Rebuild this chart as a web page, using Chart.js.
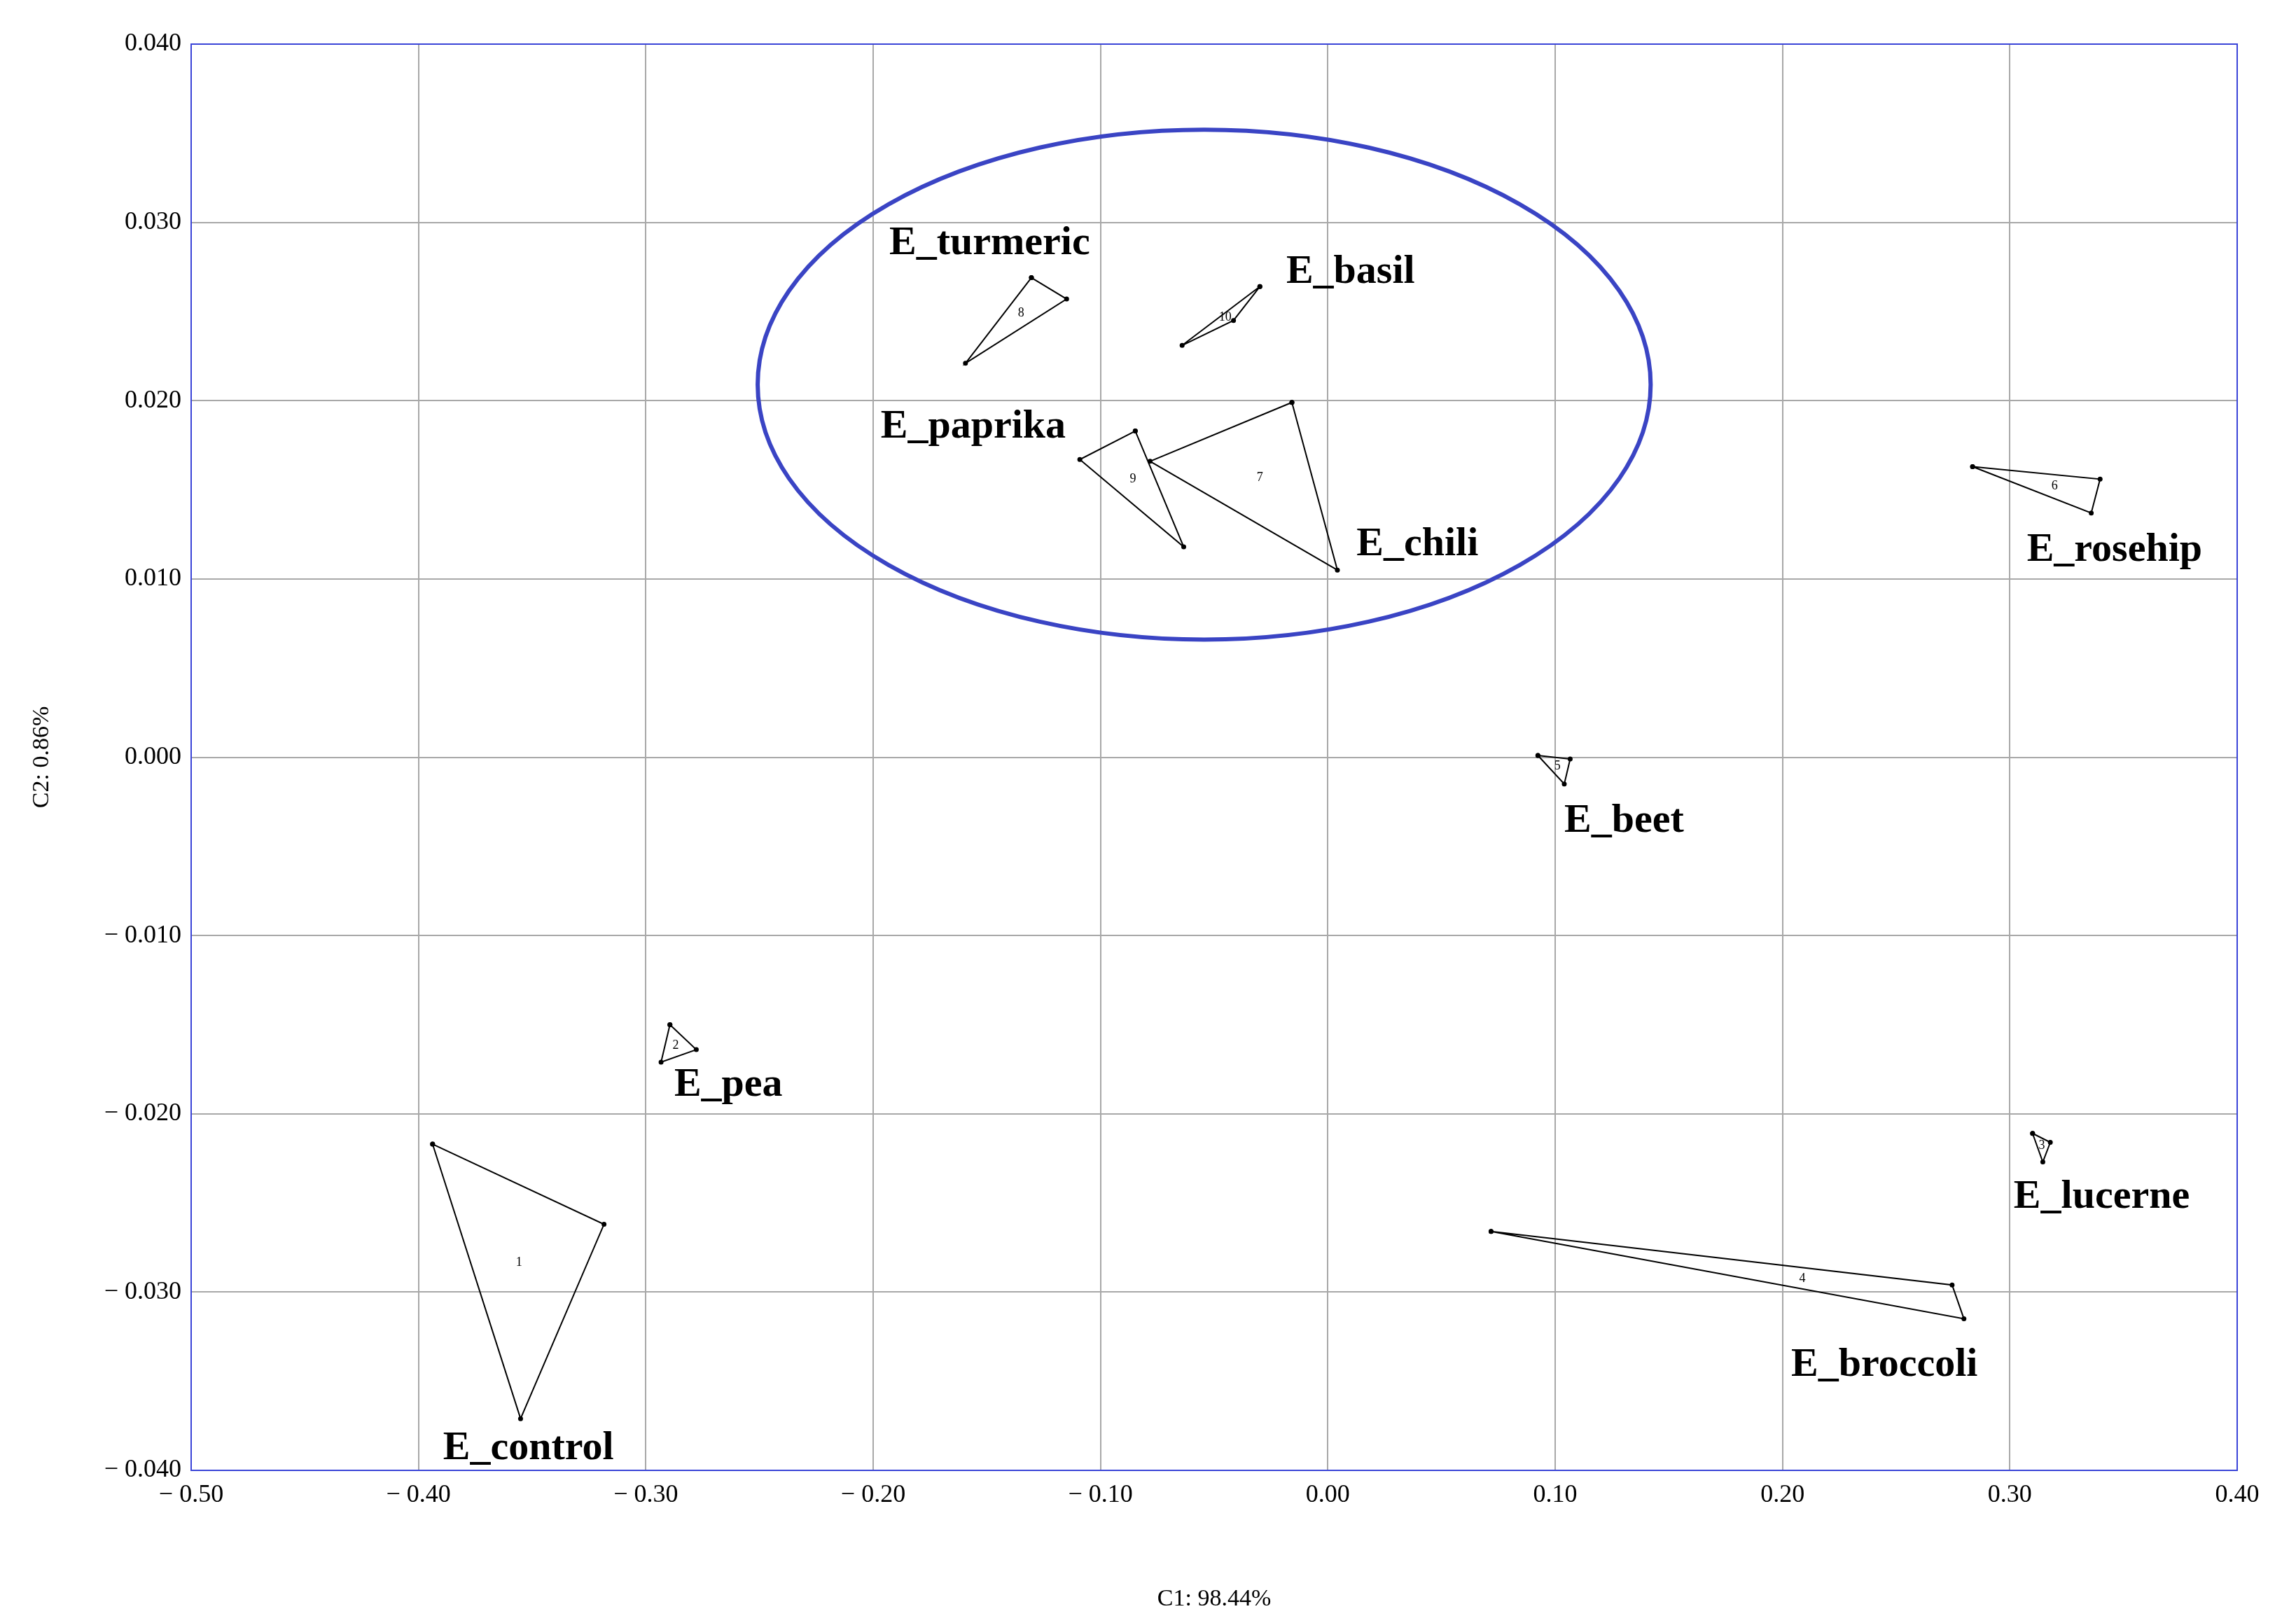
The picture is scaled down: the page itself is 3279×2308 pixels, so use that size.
<!DOCTYPE html>
<html>
<head>
<meta charset="utf-8">
<script src="https://cdn.jsdelivr.net/npm/chart.js@4"></script>
<style>
  body { margin: 0; background: #fff; }
</style>
</head>
<body>
<canvas id="chart" width="3279" height="2308"></canvas>
<script>
// group names and numbers shown inside triangles
const groups = ["E_control", "E_pea", "E_turmeric", "E_basil", "E_paprika", "E_chili", "E_rosehip", "E_beet", "E_lucerne", "E_broccoli"];
const groupNumbers = ["1", "2", "8", "10", "9", "7", "6", "5", "3", "4"];

// triangle vertices per group (C1, C2)
const vertX = [
  [-0.3938, -0.3184, -0.3551],
  [-0.2894, -0.2778, -0.2933],
  [-0.1304, -0.1149, -0.1594],
  [-0.0299, -0.0415, -0.0641],
  [-0.0847, -0.1091, -0.0634],
  [-0.0158, -0.0782, 0.0042],
  [0.2836, 0.3397, 0.3358],
  [0.0924, 0.1066, 0.1040],
  [0.3100, 0.3178, 0.3145],
  [0.0718, 0.2746, 0.2798]
];
const vertY = [
  [-0.0217, -0.0262, -0.0371],
  [-0.0150, -0.0164, -0.0171],
  [0.0269, 0.0257, 0.0221],
  [0.0264, 0.0245, 0.0231],
  [0.0183, 0.0167, 0.0118],
  [0.0199, 0.0166, 0.0105],
  [0.0163, 0.0156, 0.0137],
  [0.0001, -0.0001, -0.0015],
  [-0.0211, -0.0216, -0.0227],
  [-0.0266, -0.0296, -0.0315]
];

// label anchor positions (left edge, vertical middle)
const labelX = [-0.3892, -0.2875, -0.1929, -0.0183, -0.1967, 0.0126, 0.3075, 0.1040, 0.3017, 0.2038];
const labelY = [-0.0388, -0.0184, 0.0288, 0.0272, 0.0185, 0.0119, 0.0116, -0.0036, -0.0247, -0.0341];

// ellipse around the cluster: center x, center y, radius x, radius y
const ellipse = [-0.0544, 0.0209, 0.1964, 0.0143];

const xTicks = [-0.5, -0.4, -0.3, -0.2, -0.1, 0, 0.1, 0.2, 0.3, 0.4];
const yTicks = [-0.04, -0.03, -0.02, -0.01, 0, 0.01, 0.02, 0.03, 0.04];

function fmt(v, d) {
  if (Math.abs(v) < 1e-9) return (0).toFixed(d);
  return v < 0 ? "\u2212 " + Math.abs(v).toFixed(d) : v.toFixed(d);
}

const datasets = groups.map((g, i) => {
  const pts = vertX[i].map((x, j) => ({ x: x, y: vertY[i][j] }));
  pts.push(pts[0]);
  return {
    label: g,
    data: pts,
    showLine: true,
    borderColor: "#000",
    borderWidth: 2,
    pointRadius: 3.5,
    pointBackgroundColor: "#000",
    pointBorderWidth: 0,
    tension: 0
  };
});

const overlay = {
  id: "overlay",
  afterDatasetsDraw: (chart) => {
    const ctx = chart.ctx;
    const xs = chart.scales.x, ys = chart.scales.y;
    ctx.save();
    // ellipse
    const cx = xs.getPixelForValue(ellipse[0]);
    const cy = ys.getPixelForValue(ellipse[1]);
    const rx = xs.getPixelForValue(ellipse[0] + ellipse[2]) - cx;
    const ry = cy - ys.getPixelForValue(ellipse[1] + ellipse[3]);
    ctx.beginPath();
    ctx.ellipse(cx, cy, rx, ry, 0, 0, Math.PI * 2);
    ctx.strokeStyle = "#3a44c4";
    ctx.lineWidth = 6;
    ctx.stroke();
    // numbers at centroids
    ctx.fillStyle = "#000";
    ctx.textAlign = "center";
    ctx.textBaseline = "middle";
    ctx.font = "18px 'Liberation Serif'";
    groups.forEach((g, i) => {
      const mx = (vertX[i][0] + vertX[i][1] + vertX[i][2]) / 3;
      const my = (vertY[i][0] + vertY[i][1] + vertY[i][2]) / 3;
      ctx.fillText(groupNumbers[i], xs.getPixelForValue(mx), ys.getPixelForValue(my));
    });
    // group labels
    ctx.textAlign = "left";
    ctx.font = "bold 58px 'Liberation Serif'";
    groups.forEach((g, i) => {
      ctx.fillText(g, xs.getPixelForValue(labelX[i]), ys.getPixelForValue(labelY[i]));
    });
    // blue plot border
    const a = chart.chartArea;
    ctx.strokeStyle = "#3a44d8";
    ctx.lineWidth = 2;
    ctx.strokeRect(a.left, a.top, a.right - a.left, a.bottom - a.top);
    ctx.restore();
  }
};

new Chart(document.getElementById("chart").getContext("2d"), {
  type: "scatter",
  data: { datasets: datasets },
  plugins: [overlay],
  options: {
    responsive: false,
    animation: false,
    devicePixelRatio: 1,
    layout: { padding: { left: 36, right: 84, top: 63, bottom: 0 } },
    plugins: { legend: { display: false }, tooltip: { enabled: false } },
    scales: {
      x: {
        type: "linear", min: -0.5, max: 0.4,
        afterBuildTicks: (s) => { s.ticks = xTicks.map(v => ({ value: v })); },
        afterFit: (s) => { s.height = 208; },
        ticks: { color: "#000", font: { family: "Liberation Serif", size: 36 }, padding: 14, callback: (v) => fmt(v, 2), maxRotation: 0 },
        grid: { color: "#a8a8a8", lineWidth: 2, drawTicks: false },
        border: { display: false },
        title: { display: true, text: "C1: 98.44%", color: "#000", font: { family: "Liberation Serif", size: 34 }, padding: { top: 40 } }
      },
      y: {
        type: "linear", min: -0.04, max: 0.04,
        afterBuildTicks: (s) => { s.ticks = yTicks.map(v => ({ value: v })); },
        afterFit: (s) => { s.width = 237; },
        ticks: { color: "#000", font: { family: "Liberation Serif", size: 36 }, padding: 14, callback: (v) => fmt(v, 3) },
        grid: { color: "#a8a8a8", lineWidth: 2, drawTicks: false },
        border: { display: false },
        title: { display: true, text: "C2: 0.86%", color: "#000", font: { family: "Liberation Serif", size: 34 }, padding: { bottom: 10 } }
      }
    }
  }
});
</script>
</body>
</html>
